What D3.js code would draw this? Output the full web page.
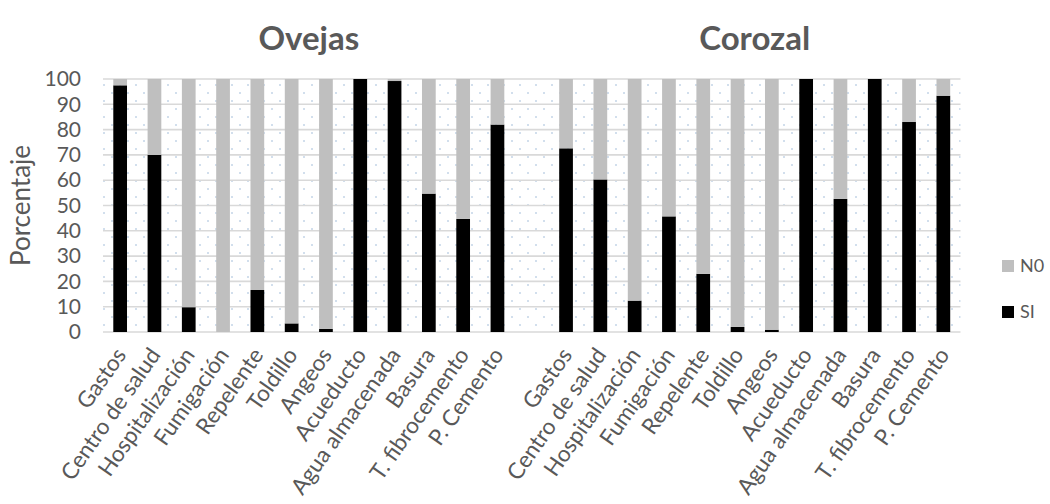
<!DOCTYPE html>
<html>
<head>
<meta charset="utf-8">
<script src="https://cdn.jsdelivr.net/npm/d3@7"></script>
<style>
  html, body { margin: 0; padding: 0; background: #fff; }
  svg { display: block; font-family: Lato, "Open Sans", sans-serif; }
</style>
</head>
<body>
<svg id="chart" width="1050" height="504"></svg>
<script>
// Household indicators by municipality (percent answering SI / N0)
const groups = ["Ovejas", "Corozal"];
const categories = ["Gastos", "Centro de salud", "Hospitalización", "Fumigación", "Repelente",
  "Toldillo", "Angeos", "Acueducto", "Agua almacenada", "Basura", "T. fibrocemento", "P. Cemento"];

const siOvejas  = [97.5, 70.0, 9.8, 0.0, 16.6, 3.4, 1.2, 100.0, 99.2, 54.7, 44.7, 82.0];
const noOvejas  = [2.5, 30.0, 90.2, 100.0, 83.4, 96.6, 98.8, 0.0, 0.8, 45.3, 55.3, 18.0];
const siCorozal = [72.6, 60.3, 12.4, 45.7, 23.0, 2.0, 0.9, 100.0, 52.6, 100.0, 83.0, 93.4];
const noCorozal = [27.4, 39.7, 87.6, 54.3, 77.0, 98.0, 99.1, 0.0, 47.4, 0.0, 17.0, 6.6];

const yTicks = [0, 10, 20, 30, 40, 50, 60, 70, 80, 90, 100];
const seriesNames = ["SI", "N0"];
const seriesColors = { SI: "#000000", N0: "#bfbfbf" };

// Build rows: 12 Ovejas categories, one empty slot, 12 Corozal categories
const rows = [];
categories.forEach((c, i) => rows.push({ key: "Ovejas|" + i, label: c, group: "Ovejas", SI: siOvejas[i], N0: noOvejas[i] }));
rows.push({ key: "gap", label: "", group: null, SI: 0, N0: 0 });
categories.forEach((c, i) => rows.push({ key: "Corozal|" + i, label: c, group: "Corozal", SI: siCorozal[i], N0: noCorozal[i] }));

const svg = d3.select("#chart");
const plot = { left: 103, right: 960.5, top: 79, bottom: 332 };
const textColor = "#595959";
const gridColor = "#d9d9d9";

const x = d3.scaleBand()
  .domain(rows.map(d => d.key))
  .range([plot.left, plot.right])
  .paddingInner(0.6)
  .paddingOuter(0.3);

const y = d3.scaleLinear().domain([0, 100]).range([plot.bottom, plot.top]);

// Dotted background pattern of the plot area
const defs = svg.append("defs");
const pat = defs.append("pattern")
  .attr("id", "dots")
  .attr("patternUnits", "userSpaceOnUse")
  .attr("x", plot.left).attr("y", plot.top)
  .attr("width", 16).attr("height", 16);
pat.append("rect").attr("x", 0).attr("y", 5).attr("width", 2).attr("height", 2).attr("fill", "#d2dfed");
pat.append("rect").attr("x", 8).attr("y", 13).attr("width", 2).attr("height", 2).attr("fill", "#d2dfed");

svg.append("rect")
  .attr("x", plot.left).attr("y", plot.top)
  .attr("width", plot.right - plot.left).attr("height", plot.bottom - plot.top)
  .attr("fill", "url(#dots)");

// Horizontal gridlines
svg.append("g")
  .selectAll("line")
  .data(yTicks)
  .join("line")
  .attr("x1", plot.left).attr("x2", plot.right)
  .attr("y1", d => y(d)).attr("y2", d => y(d))
  .attr("stroke", gridColor)
  .attr("stroke-width", 1.6);

// Y axis labels
const yAxis = svg.append("g")
  .attr("transform", `translate(${plot.left - 22},0)`)
  .call(d3.axisLeft(y).tickValues(yTicks).tickSize(0).tickPadding(0));
yAxis.select(".domain").remove();
yAxis.selectAll("text")
  .attr("fill", textColor)
  .attr("font-size", 21)
  .attr("font-family", "Lato, sans-serif");

// Y axis title
svg.append("text")
  .attr("transform", `translate(30,${(plot.top + plot.bottom) / 2}) rotate(-90)`)
  .attr("text-anchor", "middle")
  .attr("fill", textColor)
  .attr("font-size", 26)
  .text("Porcentaje");

// Stacked bars
const stack = d3.stack().keys(seriesNames);
const stacked = stack(rows.filter(d => d.group));

svg.append("g")
  .selectAll("g")
  .data(stacked)
  .join("g")
  .attr("fill", d => seriesColors[d.key])
  .selectAll("rect")
  .data(d => d)
  .join("rect")
  .attr("x", d => x(d.data.key))
  .attr("width", x.bandwidth())
  .attr("y", d => y(d[1]))
  .attr("height", d => y(d[0]) - y(d[1]));

// Category labels, rotated
const xAxis = svg.append("g")
  .attr("transform", `translate(0,${plot.bottom})`)
  .call(d3.axisBottom(x)
    .tickValues(rows.filter(d => d.group).map(d => d.key))
    .tickFormat(k => rows.find(r => r.key === k).label)
    .tickSize(0));
xAxis.select(".domain").remove();
xAxis.selectAll("text")
  .attr("fill", textColor)
  .attr("font-size", 22.5)
  .attr("font-family", "Lato, sans-serif")
  .attr("text-anchor", "end")
  .attr("dy", 0)
  .attr("y", 0)
  .attr("transform", "translate(7,23) rotate(-55)");

// Group titles centred over each block of categories
groups.forEach(g => {
  const keys = rows.filter(d => d.group === g).map(d => d.key);
  const x0 = x(keys[0]) - x.step() * x.paddingOuter();
  const x1 = x(keys[keys.length - 1]) + x.bandwidth() + x.step() * x.paddingOuter();
  svg.append("text")
    .attr("x", (x0 + x1) / 2)
    .attr("y", 50)
    .attr("text-anchor", "middle")
    .attr("fill", textColor)
    .attr("font-size", 33)
    .attr("font-weight", "bold")
    .text(g);
});

// Legend
const legend = svg.append("g");
["N0", "SI"].forEach((name, i) => {
  const ly = 260 + i * 46;
  legend.append("rect")
    .attr("x", 1002).attr("y", ly)
    .attr("width", 12).attr("height", 12)
    .attr("fill", seriesColors[name]);
  legend.append("text")
    .attr("x", 1020).attr("y", ly + 6)
    .attr("dy", "0.36em")
    .attr("fill", textColor)
    .attr("font-size", 18)
    .text(name);
});
</script>
</body>
</html>
